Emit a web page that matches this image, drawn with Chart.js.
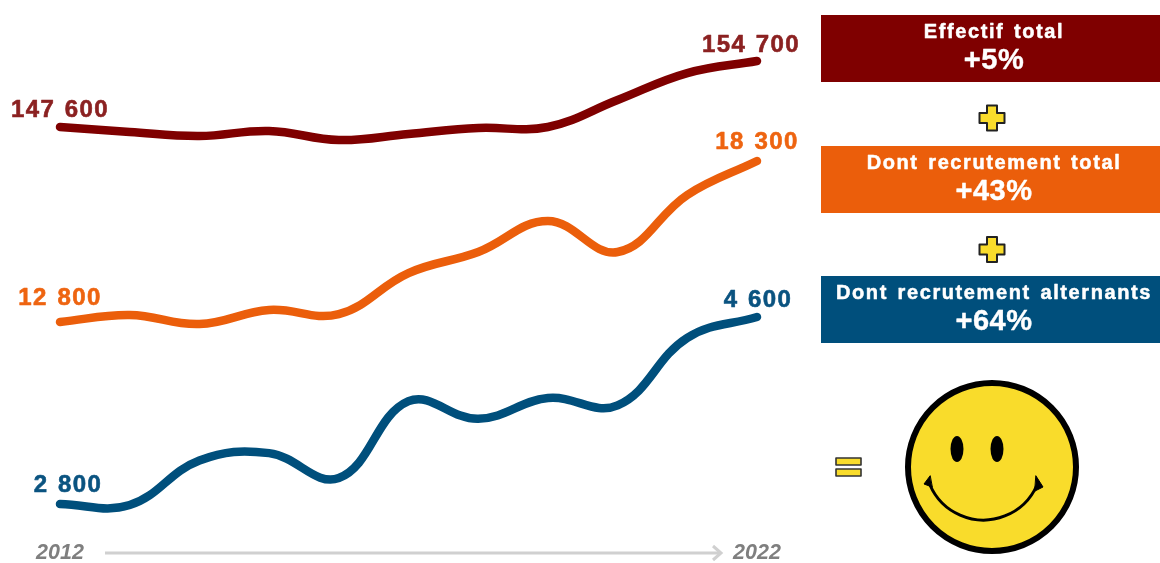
<!DOCTYPE html>
<html lang="fr"><head><meta charset="utf-8">
<style>html,body{margin:0;padding:0;background:#fff;overflow:hidden}canvas{display:block}</style>
<script src="https://cdn.jsdelivr.net/npm/chart.js@4"></script></head>
<body><div style="width:1160px;height:563px"><canvas id="c" width="1160" height="563"></canvas></div>
<script>
const years = ['2012','2013','2014','2015','2016','2017','2018','2019','2020','2021','2022'];
const effectif = [147600,147060,146630,147170,146200,146850,147490,147600,150500,153400,154700];
const recrutement = [12800,13040,12730,13210,13070,14470,15190,16250,15190,17140,18300];
const alternants = [2800,2790,3220,3290,3050,3790,3620,3820,3750,4400,4600];
const seriesNames = ['Effectif total','Dont recrutement total','Dont recrutement alternants'];
const seriesGrowth = ['+5%','+43%','+64%'];
const lineColors = ['#7f0000','#eb5e0b','#004f7c'];
const labelColors = ['#8b2121','#ee6410','#0a5380'];
const FONT = '"Liberation Sans", Arial, sans-serif';

function fmt(v){return String(v).replace(/\B(?=(\d{3})+$)/g,' ');}

function roundedPoly(ctx, pts, fill, stroke, lw){
  ctx.beginPath();
  pts.forEach((p,i)=> i?ctx.lineTo(p[0],p[1]):ctx.moveTo(p[0],p[1]));
  ctx.closePath();
  ctx.lineJoin='round';ctx.fillStyle=fill;ctx.fill();
  ctx.strokeStyle=stroke;ctx.lineWidth=lw;ctx.stroke();
}
function plus(ctx,cx,cy){
  const a=12.5,b=5;
  roundedPoly(ctx,[[cx-b,cy-a],[cx+b,cy-a],[cx+b,cy-b],[cx+a,cy-b],[cx+a,cy+b],[cx+b,cy+b],[cx+b,cy+a],[cx-b,cy+a],[cx-b,cy+b],[cx-a,cy+b],[cx-a,cy-b],[cx-b,cy-b]],'#f9dc2b','#222',2);
}
function boldText(ctx,text,x,y,ls,ws,sw,color){
  ctx.letterSpacing=ls+'px';ctx.wordSpacing=ws+'px';ctx.fillStyle=color;ctx.strokeStyle=color;ctx.lineWidth=sw;ctx.lineJoin='round';
  ctx.strokeText(text,x,y);ctx.fillText(text,x,y);ctx.letterSpacing='0px';ctx.wordSpacing='0px';
}

const decor = {
  id:'decor',
  afterDatasetsDraw(chart){
    const ctx=chart.ctx, xs=chart.scales.x;
    ctx.save();
    // end labels
    const offs=[[[0,-17],[-6,-16]],[[0,-24],[0,-19]],[[8,-19],[1,-17]]];
    chart.data.datasets.forEach((ds,i)=>{
      const m=chart.getDatasetMeta(i).data, n=m.length-1;
      ctx.font='bold 24px '+FONT;ctx.textAlign='center';ctx.textBaseline='middle';
      boldText(ctx,fmt(ds.data[0]),m[0].x+offs[i][0][0],m[0].y+offs[i][0][1],1.4,1.5,0.6,labelColors[i]);
      boldText(ctx,fmt(ds.data[n]),m[n].x+offs[i][1][0],m[n].y+offs[i][1][1],1.4,1.5,0.6,labelColors[i]);
    });
    // arrow
    const x0=xs.getPixelForValue(0)+45, x1=xs.getPixelForValue(10)-35, ay=553;
    ctx.strokeStyle='#d0d0d0';ctx.lineWidth=3;ctx.lineCap='butt';
    ctx.beginPath();ctx.moveTo(x0,ay);ctx.lineTo(x1-2,ay);ctx.stroke();
    ctx.lineJoin='miter';
    ctx.beginPath();ctx.moveTo(x1-9,ay-7);ctx.lineTo(x1-1,ay);ctx.lineTo(x1-9,ay+7);ctx.stroke();
    // boxes
    const tops=[15,146,276];
    tops.forEach((t,i)=>{
      ctx.fillStyle=lineColors[i];ctx.fillRect(821,t,339,67);
      ctx.textAlign='center';ctx.textBaseline='middle';
      ctx.font='bold 20px '+FONT;boldText(ctx,seriesNames[i],994,t+17,1.6,2.5,0.5,'#fff');
      ctx.font='bold 29px '+FONT;boldText(ctx,seriesGrowth[i],994,t+46,0.5,0,0.4,'#fff');
    });
    plus(ctx,992,118);plus(ctx,992,249.5);
    // equals
    ctx.fillStyle='#f9dc2b';ctx.strokeStyle='#333';ctx.lineWidth=1.6;
    [[836,458,25,7],[836,469,25,7]].forEach(r=>{ctx.fillRect(...r);ctx.strokeRect(...r);});
    // smiley
    ctx.beginPath();ctx.arc(992,467,84,0,Math.PI*2);ctx.fillStyle='#f9dc2b';ctx.fill();
    ctx.strokeStyle='#000';ctx.lineWidth=6;ctx.stroke();
    ctx.fillStyle='#000';
    [957,997].forEach(x=>{ctx.beginPath();ctx.ellipse(x,449,6.5,13,0,0,Math.PI*2);ctx.fill();});
    ctx.strokeStyle='#000';ctx.lineWidth=3;ctx.lineCap='round';
    ctx.beginPath();ctx.arc(983.5,461.6,58.4,(23.6)*Math.PI/180,(156.4)*Math.PI/180);ctx.stroke();
    roundedPoly(ctx,[[930,476],[924,484],[932,487]],'#000','#000',1);
    roundedPoly(ctx,[[1036,476],[1043,487],[1035,491]],'#000','#000',1);
    ctx.restore();
  }
};

function line(i,data,axis){
  return {label:seriesNames[i],data,yAxisID:axis,borderColor:lineColors[i],backgroundColor:lineColors[i],
    borderWidth:8.5,borderCapStyle:'round',borderJoinStyle:'round',pointRadius:0,tension:0.4,fill:false,clip:false};
}
new Chart(document.getElementById('c'),{
  type:'line',
  data:{labels:years,datasets:[line(0,effectif,'yE'),line(1,recrutement,'yR'),line(2,alternants,'yA')]},
  plugins:[decor],
  options:{
    responsive:false,animation:false,
    layout:{padding:{left:60,right:403,top:0,bottom:0}},
    plugins:{legend:{display:false},title:{display:false},tooltip:{enabled:false}},
    scales:{
      x:{type:'category',offset:false,grid:{display:false,drawTicks:false},border:{display:false},
        afterFit(s){s.height=25;},
        ticks:{autoSkip:false,maxRotation:0,padding:2,color:'#7f7f7f',
          font:{family:FONT,size:21.5,style:'italic',weight:'bold'},
          callback(v,i){return (i===0||i===years.length-1)?years[i]:'';}}},
      yE:{display:false,min:103376,max:161265},
      yR:{display:false,min:5421,max:23800},
      yA:{display:false,min:2473,max:7651.5}
    }
  }
});
</script></body></html>
